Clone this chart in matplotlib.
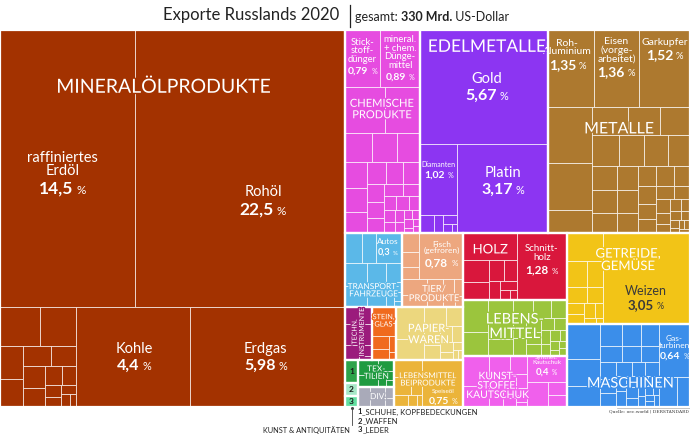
import matplotlib.pyplot as plt
from matplotlib.patches import Rectangle
from matplotlib.offsetbox import TextArea, VPacker, HPacker, AnnotationBbox
import matplotlib.patheffects as pe

plt.rcParams['font.family'] = ['Lato', 'DejaVu Sans']

# ---- data: shares of total exports in % ----
mineral_labels = ["raffiniertes\nErdöl", "Rohöl", "Kohle", "Erdgas"]
mineral_values = [14.5, 22.5, 4.4, 5.98]
mineral_other = [0.6, 0.54, 0.3, 0.25, 0.22, 0.2, 0.18, 0.15, 0.12, 0.1, 0.08, 0.06, 0.05, 0.04, 0.03]

chem_labels = ["Stick-\nstoff-\ndünger", "mineral.\n+ chem.\nDünge-\nmittel"]
chem_values = [0.79, 0.89]
chem_other = [0.72, 0.62, 0.3, 0.28, 0.26, 0.22, 0.2, 0.18, 0.16, 0.15, 0.14, 0.12, 0.11, 0.1,
              0.09, 0.08, 0.07, 0.07, 0.06, 0.05, 0.05, 0.04, 0.04, 0.03, 0.03, 0.03, 0.02, 0.02, 0.02]

edel_labels = ["Gold", "Diamanten", "Platin"]
edel_values = [5.67, 1.02, 3.17]
edel_other = [0.1, 0.07, 0.05, 0.03, 0.02]

metal_labels = ["Roh-\nAluminium", "Eisen\n(vorge-\narbeitet)", "Garkupfer"]
metal_values = [1.35, 1.36, 1.52]
metal_other = [0.95, 0.8, 0.4, 0.39, 0.36, 0.33, 0.32, 0.29, 0.28, 0.26, 0.24, 0.22, 0.2, 0.19,
               0.18, 0.16, 0.15, 0.14, 0.13, 0.12, 0.11, 0.1, 0.09, 0.08, 0.07, 0.06, 0.05, 0.05,
               0.04, 0.04, 0.03, 0.03, 0.02, 0.02, 0.02, 0.02]

transport_labels = ["Autos"]
transport_values = [0.3]
transport_top = [0.2, 0.15]
transport_other = [0.2, 0.18, 0.15, 0.12, 0.1, 0.08, 0.06, 0.05, 0.03, 0.02]

tier_labels = ["Fisch\n(gefroren)"]
tier_values = [0.78]
tier_left = [0.12, 0.1, 0.08]
tier_other = [0.15, 0.12, 0.1, 0.08, 0.07, 0.06, 0.05, 0.04]

holz_labels = ["Schnitt-\nholz"]
holz_values = [1.28]
holz_other = [0.55, 0.22, 0.18, 0.12, 0.1, 0.08, 0.06, 0.04, 0.03]

getreide_labels = ["Weizen"]
getreide_values = [3.05]
getreide_other = [0.4, 0.2, 0.16, 0.13, 0.1, 0.08, 0.07, 0.06, 0.05, 0.03, 0.02]

masch_labels = ["Gas-\nturbinen"]
masch_values = [0.64]
masch_right = [0.2, 0.15]
masch_other = [0.45, 0.35, 0.27, 0.18, 0.16, 0.15, 0.14, 0.12, 0.11, 0.1, 0.09, 0.08, 0.08, 0.07,
               0.07, 0.06, 0.06, 0.05, 0.05, 0.04, 0.04, 0.04, 0.03, 0.03, 0.03, 0.02, 0.02, 0.02, 0.02]

leb_other = [0.3, 0.22, 0.2, 0.18, 0.16, 0.14, 0.12, 0.11, 0.1, 0.09, 0.08, 0.07, 0.07, 0.06,
             0.06, 0.05, 0.04, 0.04, 0.03, 0.03, 0.02, 0.02, 0.02]

kunst_labels = ["Synthet.\nKautschuk"]
kunst_values = [0.4]
kunst_right = [0.2, 0.1, 0.08]
kunst_other = [0.3, 0.2, 0.15, 0.12, 0.1, 0.08, 0.07, 0.06, 0.05, 0.04, 0.03, 0.03, 0.02]

papier_other = [0.35, 0.22, 0.16, 0.13, 0.11, 0.09, 0.08, 0.07, 0.05, 0.04, 0.03, 0.02, 0.02]
lmb_labels = ["Speiseöl"]
lmb_values = [0.75]
lmb_other = [0.18, 0.12, 0.08, 0.06, 0.04, 0.02]
instr_other = [0.18, 0.12, 0.1, 0.08, 0.05, 0.02]
stein_other = [0.15, 0.12, 0.09, 0.07, 0.04, 0.02]
textil_other = [0.12, 0.09, 0.07, 0.05, 0.03, 0.02]
div_other = [0.09, 0.07, 0.05, 0.04, 0.03]
small_values = [0.12, 0.065, 0.055]   # 1 Schuhe, 2 Waffen, 3 Leder

colors = {
    'mineral': '#a33200', 'chem': '#e64ce0', 'edel': '#8c35f2', 'metall': '#ad792f',
    'transport': '#5bb8e8', 'tier': '#eda77f', 'holz': '#d9173c', 'getreide': '#f2c417',
    'masch': '#3b8eea', 'leb': '#9bc53d', 'kunst': '#f060ec', 'papier': '#ecd77e',
    'lmb': '#ebb43a', 'instr': '#9b1b7c', 'stein': '#f06a1e', 'textil': '#1f9b40',
    'div': '#a9aab9', 's1': '#2ea34a', 's2': '#a6e8c7', 's3': '#62dfa0',
}


def leaf(name, v):
    return ('leaf', name, v)


def sq(vals):
    return ('sq', vals)


def cat(key, node):
    return ('cat', key, node)


L = dict(zip(mineral_labels + chem_labels + edel_labels + metal_labels + transport_labels
             + tier_labels + holz_labels + getreide_labels + masch_labels + kunst_labels + lmb_labels,
             mineral_values + chem_values + edel_values + metal_values + transport_values
             + tier_values + holz_values + getreide_values + masch_values + kunst_values + lmb_values))

tree = ('h', [
    cat('mineral', ('v', [
        ('h', [leaf(n, L[n]) for n in mineral_labels[:2]]),
        ('h', [sq(mineral_other)] + [leaf(n, L[n]) for n in mineral_labels[2:]]),
    ])),
    ('v', [
        ('h', [
            cat('chem', ('v', [('h', [leaf(n, L[n]) for n in chem_labels]), sq(chem_other)])),
            cat('edel', ('v', [leaf("Gold", L["Gold"]),
                               ('h', [('v', [leaf("Diamanten", L["Diamanten"]), sq(edel_other)]),
                                      leaf("Platin", L["Platin"])])])),
            cat('metall', ('v', [('h', [leaf(n, L[n]) for n in metal_labels]), sq(metal_other)])),
        ]),
        ('h', [
            ('h', [
                ('v', [
                    ('h', [
                        cat('transport', ('v', [('h', [sq(transport_top), leaf("Autos", L["Autos"])]),
                                                sq(transport_other)])),
                        cat('tier', ('v', [('h', [sq(tier_left), leaf(tier_labels[0], L[tier_labels[0]])]),
                                           sq(tier_other)])),
                    ]),
                    ('v', [
                        ('h', [cat('instr', sq(instr_other)), cat('stein', sq(stein_other)),
                               cat('papier', sq(papier_other))]),
                        ('h', [('v', [cat('s1', sq(small_values[:1])), cat('s2', sq(small_values[1:2])),
                                      cat('s3', sq(small_values[2:]))]),
                               ('v', [cat('textil', sq(textil_other)), cat('div', sq(div_other))]),
                               cat('lmb', ('h', [sq(lmb_other), leaf("Speiseöl", L["Speiseöl"])]))]),
                    ]),
                ]),
                ('v', [
                    cat('holz', ('h', [sq(holz_other), leaf(holz_labels[0], L[holz_labels[0]])])),
                    cat('leb', sq(leb_other)),
                    cat('kunst', ('h', [sq(kunst_other),
                                        ('v', [leaf(kunst_labels[0], L[kunst_labels[0]]), sq(kunst_right)])])),
                ]),
            ]),
            ('v', [
                cat('getreide', ('h', [sq(getreide_other), leaf("Weizen", L["Weizen"])])),
                cat('masch', ('h', [sq(masch_other),
                                    ('v', [leaf(masch_labels[0], L[masch_labels[0]]), sq(masch_right)])])),
            ]),
        ]),
    ]),
])


def worst(row, side):
    s = sum(row)
    return max(max(side * side * r / (s * s), s * s / (side * side * r)) for r in row)


def squarify(areas, x, y, w, h):
    rects = []
    areas = list(areas)
    while areas:
        if len(areas) == 1:
            rects.append((x, y, w, h))
            break
        side = min(w, h)
        row = [areas.pop(0)]
        while areas and worst(row + [areas[0]], side) <= worst(row, side):
            row.append(areas.pop(0))
        s = sum(row)
        if w >= h:
            cw = s / h if areas else w
            yy = y
            for r in row:
                rects.append((x, yy, cw, r / cw))
                yy += r / cw
            x += cw
            w -= cw
        else:
            rh = s / w if areas else h
            xx = x
            for r in row:
                rects.append((xx, y, r / rh, rh))
                xx += r / rh
            y += rh
            h -= rh
    return rects


def total(node):
    if node[0] == 'leaf':
        return node[2]
    if node[0] == 'sq':
        return sum(node[1])
    if node[0] == 'cat':
        return total(node[2])
    return sum(total(c) for c in node[1])


cells, item_rects, cat_rects = [], {}, {}


def layout(node, x, y, w, h, color=None):
    kind = node[0]
    if kind == 'cat':
        cat_rects[node[1]] = (x, y, w, h)
        layout(node[2], x, y, w, h, colors[node[1]])
    elif kind == 'leaf':
        cells.append((x, y, w, h, color))
        item_rects[node[1]] = (x, y, w, h)
    elif kind == 'sq':
        vals = sorted(node[1], reverse=True)
        s = sum(vals)
        for r in squarify([v * w * h / s for v in vals], x, y, w, h):
            cells.append((*r, color))
    else:
        s = total(node)
        pos = 0
        for c in node[1]:
            f = total(c) / s
            if kind == 'h':
                layout(c, x + pos * w, y, f * w, h, color)
            else:
                layout(c, x, y + pos * h, w, f * h, color)
            pos += f


fig = plt.figure(figsize=(6.9, 4.37), dpi=100)
ax = fig.add_axes([0, 0, 1, 1])
ax.set_xlim(0, 690)
ax.set_ylim(437, 0)
ax.axis('off')

layout(tree, 0, 29.5, 690, 377)

for x, y, w, h, c in cells:
    ax.add_patch(Rectangle((x, y), w, h, facecolor=c, edgecolor=(1, 1, 1, 0.75), lw=0.6))
for k, (x, y, w, h) in cat_rects.items():
    ax.add_patch(Rectangle((x, y), w, h, facecolor='none', edgecolor='white', lw=1.6))

# item label styles: (fx, fy, name size, value size, text colour)
item_style = {
    "raffiniertes\nErdöl": (0.46, 0.52, 10.5, 12.5, 'white'),
    "Rohöl": (0.61, 0.62, 10.5, 12.5, 'white'),
    "Kohle": (0.51, 0.51, 10.5, 11.5, 'white'),
    "Erdgas": (0.49, 0.51, 10.5, 11.5, 'white'),
    "Gold": (0.52, 0.51, 10.5, 11.5, 'white'),
    "Platin": (0.5, 0.42, 10.5, 11.5, 'white'),
    "Diamanten": (0.5, 0.38, 5, 7.5, 'white'),
    "Stick-\nstoff-\ndünger": (0.5, 0.47, 6.8, 7.5, 'white'),
    "mineral.\n+ chem.\nDünge-\nmittel": (0.5, 0.5, 6.8, 7.5, 'white'),
    "Roh-\nAluminium": (0.42, 0.33, 7.5, 10, 'white'),
    "Eisen\n(vorge-\narbeitet)": (0.5, 0.36, 7.5, 10, 'white'),
    "Garkupfer": (0.5, 0.26, 7.5, 10, 'white'),
    "Autos": (0.45, 0.47, 6, 6.5, 'white'),
    "Fisch\n(gefroren)": (0.5, 0.46, 6, 8.5, 'white'),
    "Schnitt-\nholz": (0.5, 0.4, 7, 8.5, 'white'),
    "Weizen": (0.49, 0.71, 9, 9.5, '#3a3a3a'),
    "Gas-\nturbinen": (0.5, 0.44, 6, 7.5, 'white'),
    "Synthet.\nKautschuk": (0.5, 0.4, 4.5, 7, 'white'),
    "Speiseöl": (0.5, 0.8, 4.5, 7.5, 'white'),
}

for name, (fx, fy, ns, vs, tc) in item_style.items():
    x, y, w, h = item_rects[name]
    num = f"{L[name]:g}".replace('.', ',')
    t_name = TextArea(name, textprops=dict(size=ns, color=tc, multialignment='center', linespacing=0.95))
    t_num = TextArea(num, textprops=dict(size=vs, color=tc, weight='bold'))
    t_pct = TextArea("%", textprops=dict(size=vs * 0.68, color=tc))
    row = HPacker(children=[t_num, t_pct], align='baseline', pad=0, sep=2)
    box = VPacker(children=[t_name, row], align='center', pad=0, sep=2)
    ax.add_artist(AnnotationBbox(box, (x + fx * w, y + fy * h), xycoords='data',
                                 frameon=False, box_alignment=(0.5, 0.5), pad=0))

# category labels: (text, fx, fy, size, rotation)
cat_style = {
    'mineral': ("MINERALÖLPRODUKTE", 0.474, 0.153, 14, 0),
    'chem': ("CHEMISCHE\nPRODUKTE", 0.49, 0.39, 8, 0),
    'edel': ("EDELMETALLE", 0.52, 0.085, 12.5, 0),
    'metall': ("METALLE", 0.5, 0.49, 11.5, 0),
    'transport': ("TRANSPORT-\nFAHRZEUGE", 0.5, 0.77, 6, 0),
    'tier': ("TIER/\nPRODUKTE", 0.52, 0.82, 6.8, 0),
    'holz': ("HOLZ", 0.26, 0.24, 9.5, 0),
    'getreide': ("GETREIDE,\nGEMÜSE", 0.5, 0.29, 9.5, 0),
    'masch': ("MASCHINEN", 0.52, 0.72, 10.5, 0),
    'leb': ("LEBENS-\nMITTEL", 0.5, 0.48, 10.5, 0),
    'kunst': ("KUNST-\nSTOFFE,\nKAUTSCHUK", 0.33, 0.6, 7.5, 0),
    'papier': ("PAPIER-\nWAREN", 0.48, 0.51, 8, 0),
    'lmb': ("LEBENSMITTEL\nBEIPRODUKTE", 0.48, 0.42, 5.8, 0),
    'stein': ("STEIN,\nGLAS", 0.48, 0.25, 5.3, 0),
    'textil': ("TEX-\nTILIEN", 0.5, 0.48, 6, 0),
    'div': ("DIV.", 0.55, 0.5, 6, 0),
    'instr': ("TECHN.\nINSTRUMENTE", 0.48, 0.47, 5, 90),
}
for key, (txt, fx, fy, size, rot) in cat_style.items():
    x, y, w, h = cat_rects[key]
    ax.text(x + fx * w, y + fy * h, txt, ha='center', va='center', color='white', size=size,
            rotation=rot, linespacing=1.05, multialignment='center',
            path_effects=[pe.withStroke(linewidth=2, foreground=colors[key])])

for key, txt in zip(['s1', 's2', 's3'], ['1', '2', '3']):
    x, y, w, h = cat_rects[key]
    ax.text(x + w / 2, y + h / 2, txt, ha='center', va='center', color='#1a1a1a', size=6, weight='bold')

# title
ax.text(339, 15, "Exporte Russlands 2020", ha='right', va='center', size=12, color='#222222')
ax.plot([350, 350], [5, 27], color='#222222', lw=0.9)
sub = HPacker(children=[TextArea("gesamt: ", textprops=dict(size=9, color='#222222')),
                        TextArea("330 Mrd.", textprops=dict(size=9, color='#222222', weight='bold')),
                        TextArea(" US-Dollar", textprops=dict(size=9, color='#222222'))],
              align='baseline', pad=0, sep=0)
ax.add_artist(AnnotationBbox(sub, (355, 17), xycoords='data', frameon=False,
                             box_alignment=(0, 0.5), pad=0))

# footnotes
notes = ["SCHUHE, KOPFBEDECKUNGEN", "WAFFEN", "LEDER"]
for i, n in enumerate(notes):
    yy = 412 + i * 9
    ax.text(358, yy, f"{i + 1}", ha='left', va='center', size=5.5, weight='bold', color='#222222')
    ax.text(362.5, yy, "_" + n, ha='left', va='center', size=5.5, color='#222222')
ax.text(350, 430, "KUNST & ANTIQUITÄTEN", ha='right', va='center', size=5.3, color='#222222')
ax.plot([352, 352], [408, 425], color='#444444', lw=0.6)
ax.plot([352], [408], marker='o', ms=1.2, color='#444444')
ax.plot([617, 690], [407.5, 407.5], color='#999999', lw=0.4)
ax.text(689, 411, "Quelle: oec.world | DERSTANDARD", ha='right', va='center', size=3.2,
        family='DejaVu Serif', color='#333333')

fig.savefig("out.png", dpi=100)
